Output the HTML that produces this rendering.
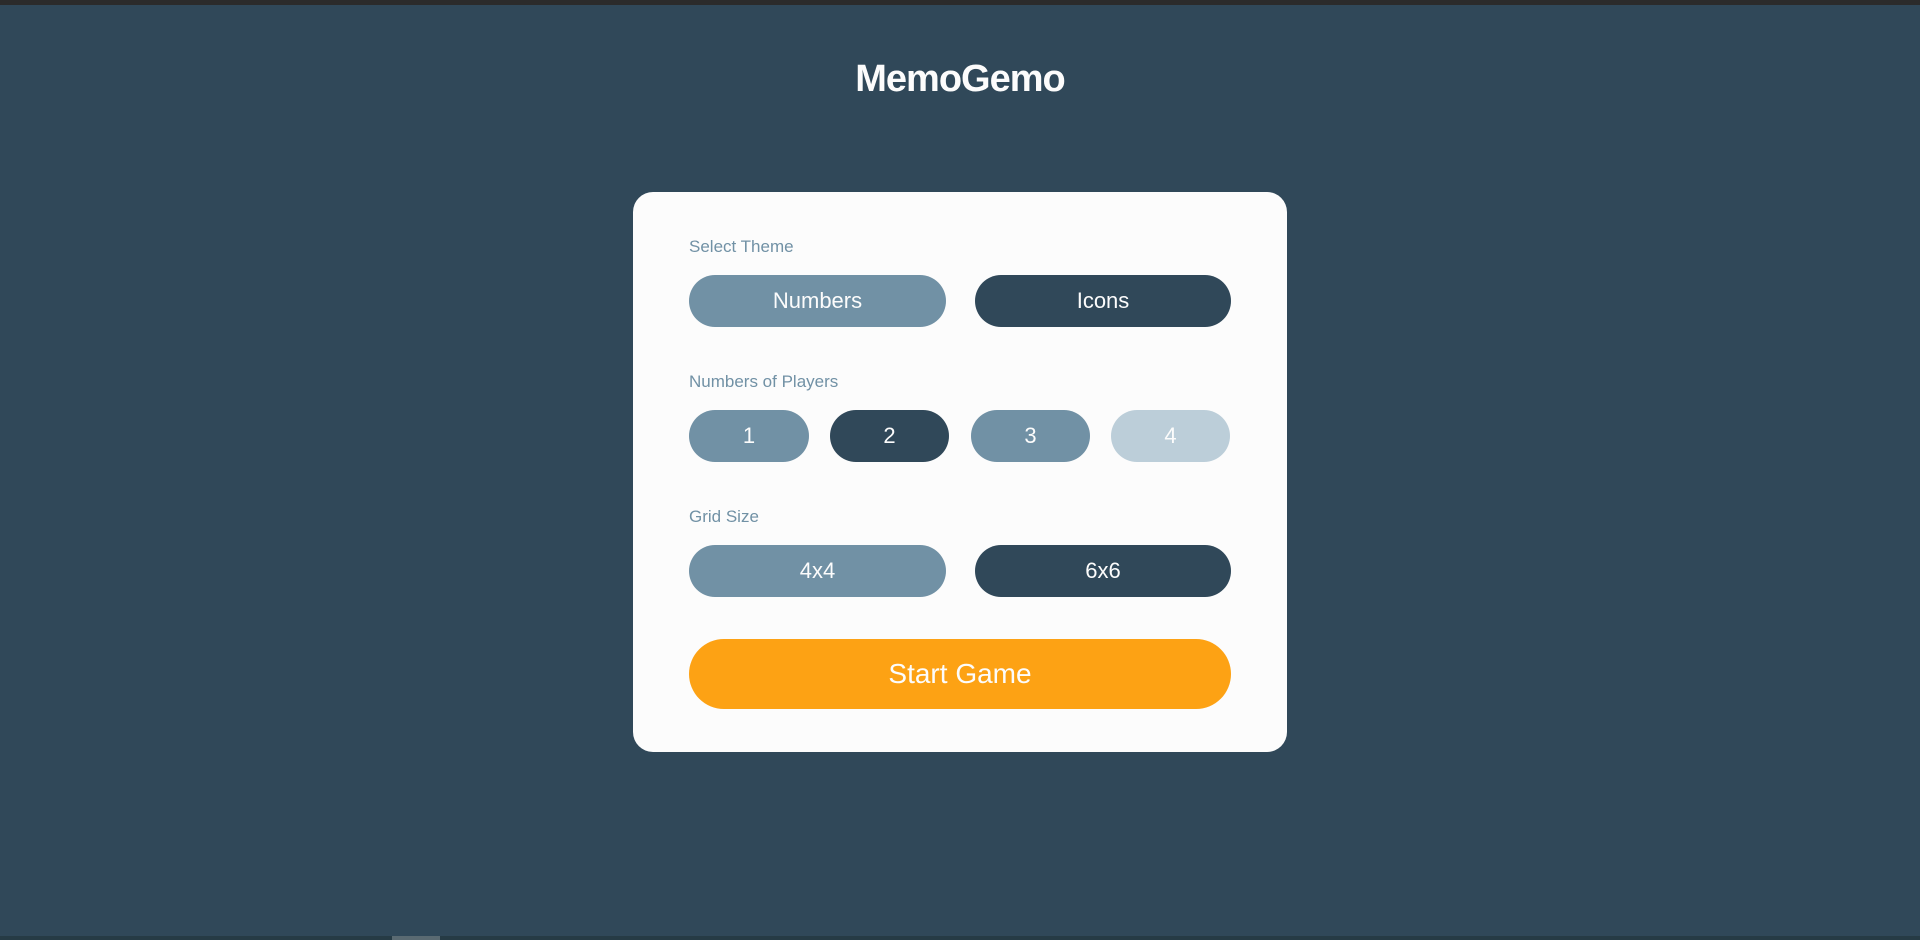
<!DOCTYPE html>
<html><head><style>
html,body{margin:0;padding:0;width:1920px;height:940px;overflow:hidden;background:#304859;font-family:"Liberation Sans",sans-serif;}
.top{position:absolute;left:0;top:0;width:1920px;height:5px;background:#2b2b2b;}
.bot{position:absolute;left:0;top:936px;width:1920px;height:4px;background:#263b45;}
.bot2{position:absolute;left:392px;top:936px;width:48px;height:4px;background:#5a6a72;}
h1{position:absolute;left:0;top:58px;width:1920px;margin:0;text-align:center;color:#fcfcfc;font-size:38px;font-weight:bold;letter-spacing:-1px;line-height:42px;}
.card{position:absolute;left:633px;top:192px;width:654px;height:560px;background:#fcfcfc;border-radius:20px;}
.lab{position:absolute;color:#7191a5;font-size:17px;line-height:20px;}
.b{position:absolute;border-radius:30px;color:#fcfcfc;font-size:22px;text-align:center;}
.l{background:#7191a5}.d{background:#304859}.x{background:#bcced9}
</style></head><body>
<div class="top"></div>
<h1>MemoGemo</h1>
<div class="card"></div>
<div class="lab" style="left:689px;top:237px">Select Theme</div>
<div class="b l" style="left:689px;top:275px;width:257px;height:52px;line-height:52px">Numbers</div>
<div class="b d" style="left:975px;top:275px;width:256px;height:52px;line-height:52px">Icons</div>
<div class="lab" style="left:689px;top:372px">Numbers of Players</div>
<div class="b l" style="left:689px;top:410px;width:120px;height:52px;line-height:52px">1</div>
<div class="b d" style="left:830px;top:410px;width:119px;height:52px;line-height:52px">2</div>
<div class="b l" style="left:971px;top:410px;width:119px;height:52px;line-height:52px">3</div>
<div class="b x" style="left:1111px;top:410px;width:119px;height:52px;line-height:52px">4</div>
<div class="lab" style="left:689px;top:507px">Grid Size</div>
<div class="b l" style="left:689px;top:545px;width:257px;height:52px;line-height:52px">4x4</div>
<div class="b d" style="left:975px;top:545px;width:256px;height:52px;line-height:52px">6x6</div>
<div class="b" style="left:689px;top:639px;width:542px;height:70px;line-height:70px;border-radius:35px;background:#fda214;font-size:28px">Start Game</div>
<div class="bot"></div><div class="bot2"></div>
</body></html>
